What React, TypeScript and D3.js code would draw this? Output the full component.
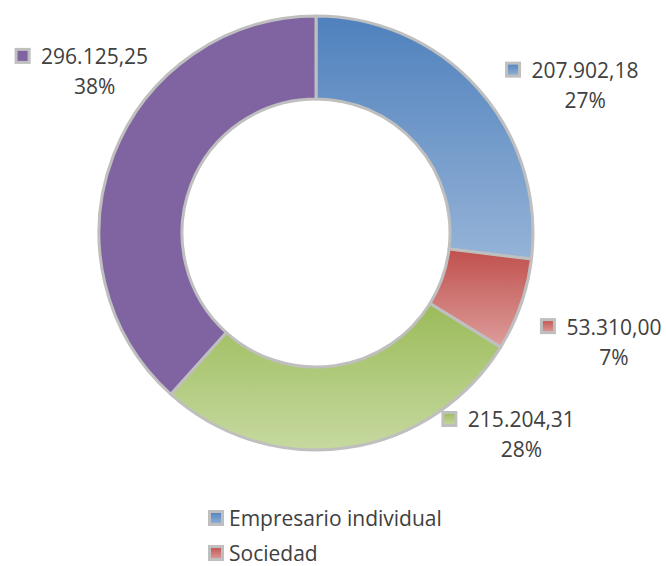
import React, { useEffect, useRef } from "react";
import * as d3 from "d3";

// Donut of amounts by legal form, Excel-style gradients and outside labels.
const values = [207902.18, 53310.0, 215204.31, 296125.25];
const legendNames = ["Empresario individual", "Sociedad"];
const topColors = ["#4f81bd", "#c0504d", "#9bbb59", "#8064a2"];
const bottomColors = ["#95b3d7", "#dd9d9b", "#c6d9a0", "#8064a2"];

// label nudges relative to the label-arc centroid (value line centre / baseline)
const labelNudge = [
  [82, 11],
  [62, 19],
  [170, -53],
  [12, -79],
];

const esLocale = d3.formatLocale({
  decimal: ",",
  thousands: ".",
  grouping: [3],
  currency: ["", ""],
});
const fmtValue = esLocale.format(",.2f");
const fmtPct = d3.format(".0%");

export default function App() {
  const ref = useRef<SVGSVGElement>(null);

  useEffect(() => {
    const el = ref.current;
    if (!el) return;
    const svg = d3.select(el);
    svg.selectAll("*").remove();

    const cx = 316;
    const cy = 233;
    const outer = 217;
    const inner = 134;
    const font = "'Open Sans', 'Noto Sans', sans-serif";
    const fs = 21;
    const textColor = "#404040";
    const total = d3.sum(values);

    const defs = svg.append("defs");
    values.forEach((_, i) => {
      const g = defs
        .append("linearGradient")
        .attr("id", `grad${i}`)
        .attr("x1", 0)
        .attr("y1", 0)
        .attr("x2", 0)
        .attr("y2", 1);
      g.append("stop").attr("offset", "0%").attr("stop-color", topColors[i]);
      g.append("stop").attr("offset", "100%").attr("stop-color", bottomColors[i]);
    });

    const pie = d3.pie<number>().sort(null).value((d) => d);
    const arcs = pie(values);
    const arc = d3.arc<d3.PieArcDatum<number>>().innerRadius(inner).outerRadius(outer);
    const labelArc = d3.arc<d3.PieArcDatum<number>>().innerRadius(250).outerRadius(250);

    const g = svg.append("g").attr("transform", `translate(${cx},${cy})`);
    g.selectAll("path.slice")
      .data(arcs)
      .join("path")
      .attr("class", "slice")
      .attr("d", arc)
      .attr("fill", (_, i) => `url(#grad${i})`)
      .attr("stroke", "#bfbfbf")
      .attr("stroke-width", 3)
      .attr("stroke-linejoin", "round");

    // data labels
    arcs.forEach((a, i) => {
      const [lx, ly] = labelArc.centroid(a);
      const x = cx + lx + labelNudge[i][0];
      const y = cy + ly + labelNudge[i][1];
      const lg = svg.append("g");
      const t = lg
        .append("text")
        .attr("x", x)
        .attr("y", y)
        .attr("text-anchor", "middle")
        .attr("font-family", font)
        .attr("font-size", fs)
        .attr("fill", textColor)
        .text(fmtValue(a.data));
      const w = (t.node() as SVGTextElement).getComputedTextLength();
      lg.append("rect")
        .attr("x", x - w / 2 - 25)
        .attr("y", y - 15)
        .attr("width", 13)
        .attr("height", 13)
        .attr("fill", `url(#grad${i})`)
        .attr("stroke", "#bfbfbf")
        .attr("stroke-width", 3);
      lg.append("text")
        .attr("x", x)
        .attr("y", y + 30)
        .attr("text-anchor", "middle")
        .attr("font-family", font)
        .attr("font-size", fs)
        .attr("fill", textColor)
        .text(fmtPct(a.data / total));
    });

    // legend (only the visible entries)
    const legend = svg
      .append("g")
      .selectAll("g")
      .data(legendNames)
      .join("g")
      .attr("transform", (_, i) => `translate(208,${526 + i * 35})`);
    legend
      .append("rect")
      .attr("x", 1.5)
      .attr("y", -14.5)
      .attr("width", 13)
      .attr("height", 13)
      .attr("fill", (_, i) => `url(#grad${i})`)
      .attr("stroke", "#bfbfbf")
      .attr("stroke-width", 3);
    legend
      .append("text")
      .attr("x", 21)
      .attr("y", 0)
      .attr("font-family", font)
      .attr("font-size", fs)
      .attr("fill", textColor)
      .text((d) => d);
  }, []);

  return (
    <svg
      ref={ref}
      width={666}
      height={566}
      style={{ position: "absolute", left: 0, top: 0, background: "#fff" }}
    />
  );
}
